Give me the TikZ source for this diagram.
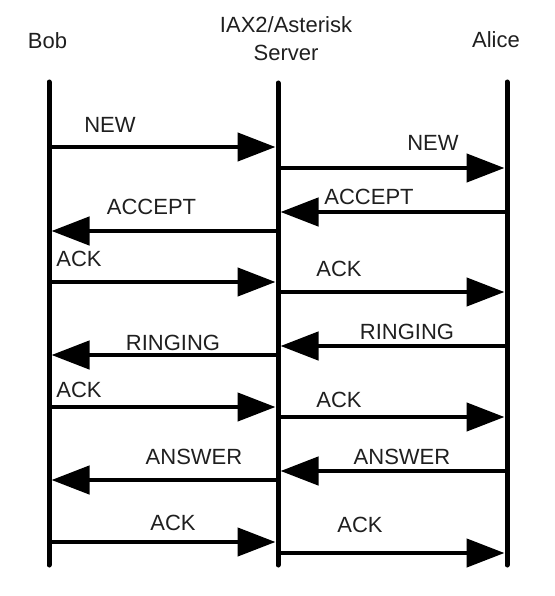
\documentclass[tikz,border=0pt]{standalone}
\usepackage{fontspec}
\setmainfont{Liberation Sans}
\usetikzlibrary{arrows.meta}
\begin{document}
\begin{tikzpicture}[x=1pt,y=-1pt,
  lifeline/.style={line width=5pt, line cap=round},
  msg/.style={line width=4.5pt, -{Triangle[length=38pt,width=28pt]}, shorten >=2.5pt},
  lbl/.style={inner sep=0pt, font=\fontsize{22}{28}\selectfont, text=black!88, align=center}]
\useasboundingbox (0,0) rectangle (554,596);

% actors
\node[lbl] (bob) at (47.5,41) {Bob};
\node[lbl] (server) at (286,39) {IAX2/Asterisk\\Server};
\node[lbl] (alice) at (496,40) {Alice};

% lifelines
\coordinate (bobT) at (49,82);
\coordinate (bobB) at (49,565);
\coordinate (srvT) at (278,83);
\coordinate (srvB) at (278,565);
\coordinate (aliT) at (507,82);
\coordinate (aliB) at (507,565);
\draw[lifeline] (bobT) -- (bobB);
\draw[lifeline] (srvT) -- (srvB);
\draw[lifeline] (aliT) -- (aliB);

% message end points
\coordinate (b1) at (49,147);   \coordinate (s1) at (278,147);
\coordinate (s2) at (278,168);  \coordinate (a2) at (507,168);
\coordinate (a3) at (507,212);  \coordinate (s3) at (278,212);
\coordinate (s4) at (278,231);  \coordinate (b4) at (49,231);
\coordinate (b5) at (49,282);   \coordinate (s5) at (278,282);
\coordinate (s6) at (278,292);  \coordinate (a6) at (507,292);
\coordinate (a7) at (507,346);  \coordinate (s7) at (278,346);
\coordinate (s8) at (278,355);  \coordinate (b8) at (49,355);
\coordinate (b9) at (49,407);   \coordinate (s9) at (278,407);
\coordinate (s10) at (278,417); \coordinate (a10) at (507,417);
\coordinate (a11) at (507,471); \coordinate (s11) at (278,471);
\coordinate (s12) at (278,480); \coordinate (b12) at (49,480);
\coordinate (b13) at (49,542);  \coordinate (s13) at (278,542);
\coordinate (s14) at (278,553); \coordinate (a14) at (507,553);

% messages
\draw[msg] (b1) -- (s1);
\draw[msg] (s2) -- (a2);
\draw[msg] (a3) -- (s3);
\draw[msg] (s4) -- (b4);
\draw[msg] (b5) -- (s5);
\draw[msg] (s6) -- (a6);
\draw[msg] (a7) -- (s7);
\draw[msg] (s8) -- (b8);
\draw[msg] (b9) -- (s9);
\draw[msg] (s10) -- (a10);
\draw[msg] (a11) -- (s11);
\draw[msg] (s12) -- (b12);
\draw[msg] (b13) -- (s13);
\draw[msg] (s14) -- (a14);

% labels
\node[lbl] (l1) at (110,125) {NEW};
\node[lbl] (l2) at (433,143) {NEW};
\node[lbl] (l3) at (369,197) {ACCEPT};
\node[lbl] (l4) at (151.5,207) {ACCEPT};
\node[lbl] (l5) at (79,259) {ACK};
\node[lbl] (l6) at (339,269) {ACK};
\node[lbl] (l7) at (407,332) {RINGING};
\node[lbl] (l8) at (173,343) {RINGING};
\node[lbl] (l9) at (79,390) {ACK};
\node[lbl] (l10) at (339,400) {ACK};
\node[lbl] (l11) at (402,457) {ANSWER};
\node[lbl] (l12) at (194,457) {ANSWER};
\node[lbl] (l13) at (173,523) {ACK};
\node[lbl] (l14) at (360,525) {ACK};
\end{tikzpicture}
\end{document}
